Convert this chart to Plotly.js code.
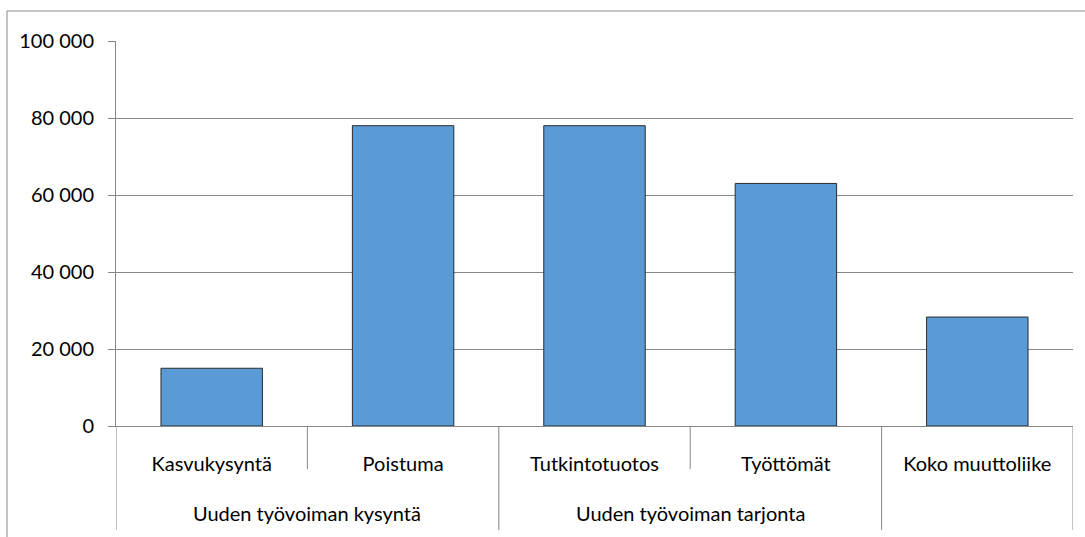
<!DOCTYPE html>
<html>
<head>
<meta charset="utf-8">
<script src="https://cdn.plot.ly/plotly-3.0.1.min.js"></script>
<style>
  html, body { margin: 0; padding: 0; background: #fff; }
  #plot { width: 1085px; height: 537px; }
</style>
</head>
<body>
<div id="plot"></div>
<script>
// outer level (groups) and inner level (categories) of the x axis
var groups = ['Uuden työvoiman kysyntä', 'Uuden työvoiman kysyntä',
              'Uuden työvoiman tarjonta', 'Uuden työvoiman tarjonta', ''];
var categories = ['Kasvukysyntä', 'Poistuma', 'Tutkintotuotos', 'Työttömät', 'Koko muuttoliike'];
var values = [15000, 78000, 78000, 63000, 28300];

var gridGray = '#878787';

var trace1 = {
    x: categories,
    y: values,
    type: 'bar',
    marker: { color: '#5B9BD5', line: { color: '#2b2b2b', width: 1 } },
    hoverinfo: 'none'
};

var data = [trace1];

//Excel style two-level axis: short lines between categories,
//long lines between groups, group names on a second row
var shapes = [];
var annotations = [];
var shortEnd = -0.112;
var longEnd = -0.27;

for (var i = 0; i <= categories.length; i++) {
    var isGroupEdge = (i === 0 || i === categories.length || groups[i] !== groups[i - 1]);
    shapes.push({
        type: 'line',
        xref: 'x', yref: 'paper',
        x0: i - 0.5, x1: i - 0.5,
        y0: 0, y1: isGroupEdge ? longEnd : shortEnd,
        line: { color: gridGray, width: 1 }
    });
}

var start = 0;
for (var j = 1; j <= groups.length; j++) {
    if (j === groups.length || groups[j] !== groups[start]) {
        if (groups[start] !== '') {
            annotations.push({
                text: groups[start],
                xref: 'x', yref: 'paper',
                x: (start + j - 1) / 2,
                y: -0.226,
                xanchor: 'center', yanchor: 'middle',
                showarrow: false,
                font: { size: 20 }
            });
        }
        start = j;
    }
}

// outer chart border
shapes.push({
    type: 'rect',
    xref: 'paper', yref: 'paper',
    x0: -0.1139, x1: 1.03,
    y0: -0.32, y1: 1.0779,
    line: { color: gridGray, width: 1 },
    layer: 'below'
});

var layout = {
    width: 1085,
    height: 537,
    margin: { l: 116, r: 12, t: 41, b: 111 },
    paper_bgcolor: '#fff',
    plot_bgcolor: '#fff',
    separators: ', ',
    font: { family: 'Lato, "Open Sans", sans-serif', size: 20, color: '#000' },
    showlegend: false,
    bargap: 0.47,
    xaxis: {
        type: 'category',
        range: [-0.5, categories.length - 0.5],
        showline: true,
        linecolor: gridGray,
        linewidth: 1,
        ticks: '',
        ticklabelstandoff: 20,
        tickfont: { size: 20 }
    },
    yaxis: {
        range: [0, 100000],
        dtick: 20000,
        tickformat: ',d',
        showline: true,
        linecolor: gridGray,
        ticks: 'outside',
        ticklen: 7,
        tickcolor: gridGray,
        ticklabelstandoff: 10,
        gridcolor: gridGray,
        gridwidth: 1,
        zeroline: false,
        tickfont: { size: 20 }
    },
    shapes: shapes,
    annotations: annotations
};

Plotly.newPlot('plot', data, layout, { staticPlot: true });
</script>
</body>
</html>
